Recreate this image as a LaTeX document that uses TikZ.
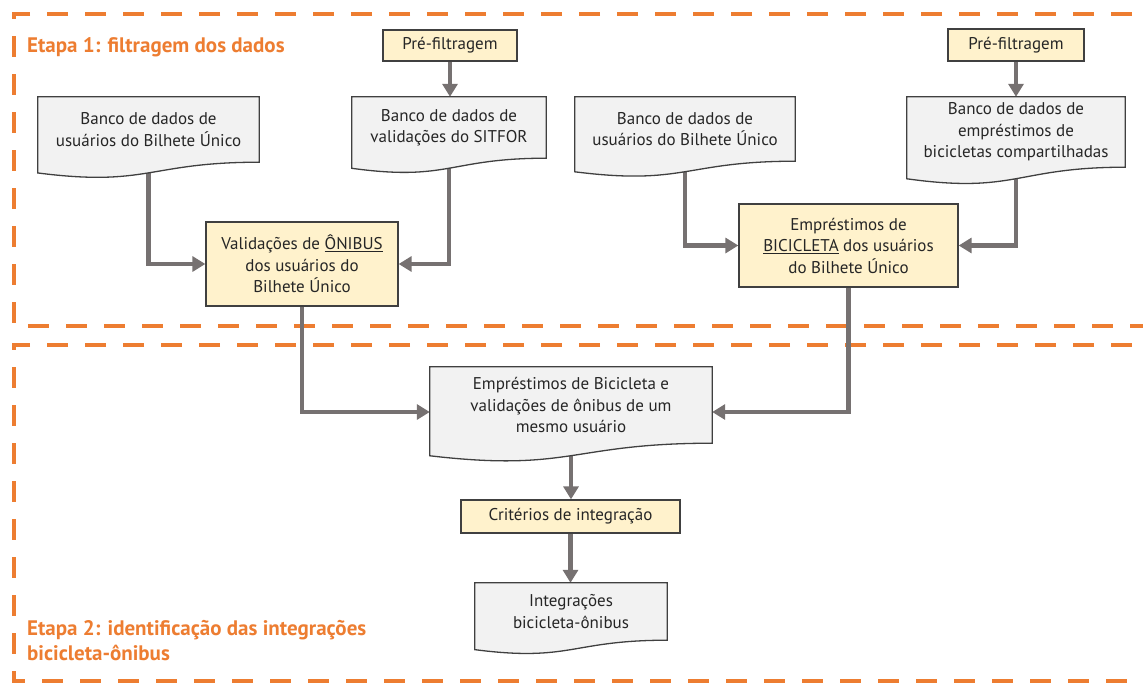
\documentclass[tikz,border=0pt]{standalone}
\usepackage{fontspec}
\setmainfont{PT Sans}
\usetikzlibrary{arrows.meta,calc}
\definecolor{frameor}{HTML}{ED7D31}
\definecolor{docfill}{HTML}{F2F2F2}
\definecolor{boxfill}{HTML}{FFF2CC}
\definecolor{arrgray}{HTML}{767171}
\definecolor{edge}{HTML}{404040}
\pgfdeclarelayer{arrowlayer}
\pgfdeclarelayer{doclayer}
\pgfsetlayers{arrowlayer,doclayer,main}
\tikzset{
  bodytxt/.style={font=\fontsize{17}{21.5}\selectfont, align=center, text=black!85},
  docnode/.style={bodytxt, draw=none, inner sep=0pt},
  boxnode/.style={bodytxt, draw=edge, line width=1.3pt, fill=boxfill, inner sep=0pt},
  docshape/.style={draw=edge, line width=1.3pt, fill=docfill},
  arr/.style={draw=arrgray, line width=4.5pt, -{Triangle[width=15pt,length=13pt]}},
  frame/.style={draw=frameor, line width=4.5pt, dash pattern=on 21pt off 17pt},
  titletxt/.style={font=\fontsize{21}{25}\selectfont\bfseries, text=frameor, align=left, inner sep=0pt}
}
\newcommand\docpath[1]{%
  \path[docshape] let \p1=(#1.north), \p2=(#1.south), \n1={\y1-\y2} in
  (#1.north west) -- (#1.north east) -- (#1.south east)
  .. controls (#1.south) and ([yshift=-0.381*\n1]#1.south) ..
  ([yshift=-0.1645*\n1]#1.south west) -- cycle;}
\begin{document}
\begin{tikzpicture}[x=1pt,y=-1pt]
\useasboundingbox (0,0) rectangle (1143,683);
% frames
\begin{pgfonlayer}{arrowlayer}
\draw[frame] (1170,14) -- (14,14) -- (14,326) -- (1170,326);
\draw[frame] (1170,345) -- (14,345) -- (14,681) -- (1170,681);
\end{pgfonlayer}
% titles
\node[titletxt, anchor=base west] (t1) at (27,52) {Etapa 1: filtragem dos dados};
\node[titletxt, anchor=base west] (t2) at (27,635) {Etapa 2: identificação das integrações};
\node[titletxt, anchor=base west] (t2b) at (27,660) {bicicleta-ônibus};
% boxes
\node[boxnode, minimum width=134pt, minimum height=31pt] (pre1) at (450,45.5) {Pré-filtragem};
\node[boxnode, minimum width=136pt, minimum height=32pt] (pre2) at (1016,45) {Pré-filtragem};
\node[boxnode, minimum width=192pt, minimum height=84pt] (val) at (302,264) {Validações de \underline{ÔNIBUS}\\dos usuários do\\Bilhete Único};
\node[boxnode, minimum width=219pt, minimum height=83pt] (emp) at (848.5,245.5) {Empréstimos de\\\underline{BICICLETA} dos usuários\\do Bilhete Único};
\node[boxnode, minimum width=219pt, minimum height=33pt] (crit) at (570.5,516.5) {Critérios de integração};
% documents
\node[docnode, minimum width=221pt, minimum height=65pt] (ldoc) at (148.5,129.5) {Banco de dados de\\usuários do Bilhete Único};
\node[docnode, minimum width=194pt, minimum height=61pt] (sit) at (449,127.5) {Banco de dados de\\validações do SITFOR};
\node[docnode, minimum width=220pt, minimum height=64pt] (rdoc) at (685,129) {Banco de dados de\\usuários do Bilhete Único};
\node[docnode, minimum width=218pt, minimum height=70pt] (bike) at (1016,132) {Banco de dados de\\empréstimos de\\bicicletas compartilhadas};
\node[docnode, minimum width=282pt, minimum height=76pt] (mid) at (571,405) {Empréstimos de Bicicleta e\\validações de ônibus de um\\mesmo usuário};
\node[docnode, minimum width=192pt, minimum height=57pt] (integ) at (571,611.5) {Integrações\\bicicleta-ônibus};
\begin{pgfonlayer}{doclayer}
\docpath{ldoc}
\docpath{sit}
\docpath{rdoc}
\docpath{bike}
\docpath{mid}
\docpath{integ}
\end{pgfonlayer}
% connectors
\begin{pgfonlayer}{arrowlayer}
\draw[arr] (pre1.south) -- (pre1.south |- sit.north);
\draw[arr] (pre2.south) -- (pre2.south |- bike.north);
\draw[arr] (ldoc.south) |- (val.west);
\draw[arr] (sit.south) |- (val.east);
\draw[arr] (rdoc.south) |- (emp.west);
\draw[arr] (bike.south) |- (emp.east);
\coordinate (midl) at ([yshift=-7pt]mid.west);
\coordinate (midr) at ([yshift=-7pt]mid.east);
\draw[arr] (val.south) |- (midl);
\draw[arr] (emp.south) |- (midr);
\draw[arr] (mid.south) -- (mid.south |- crit.north);
\draw[arr] (crit.south) -- (crit.south |- integ.north);
\end{pgfonlayer}
\end{tikzpicture}
\end{document}
